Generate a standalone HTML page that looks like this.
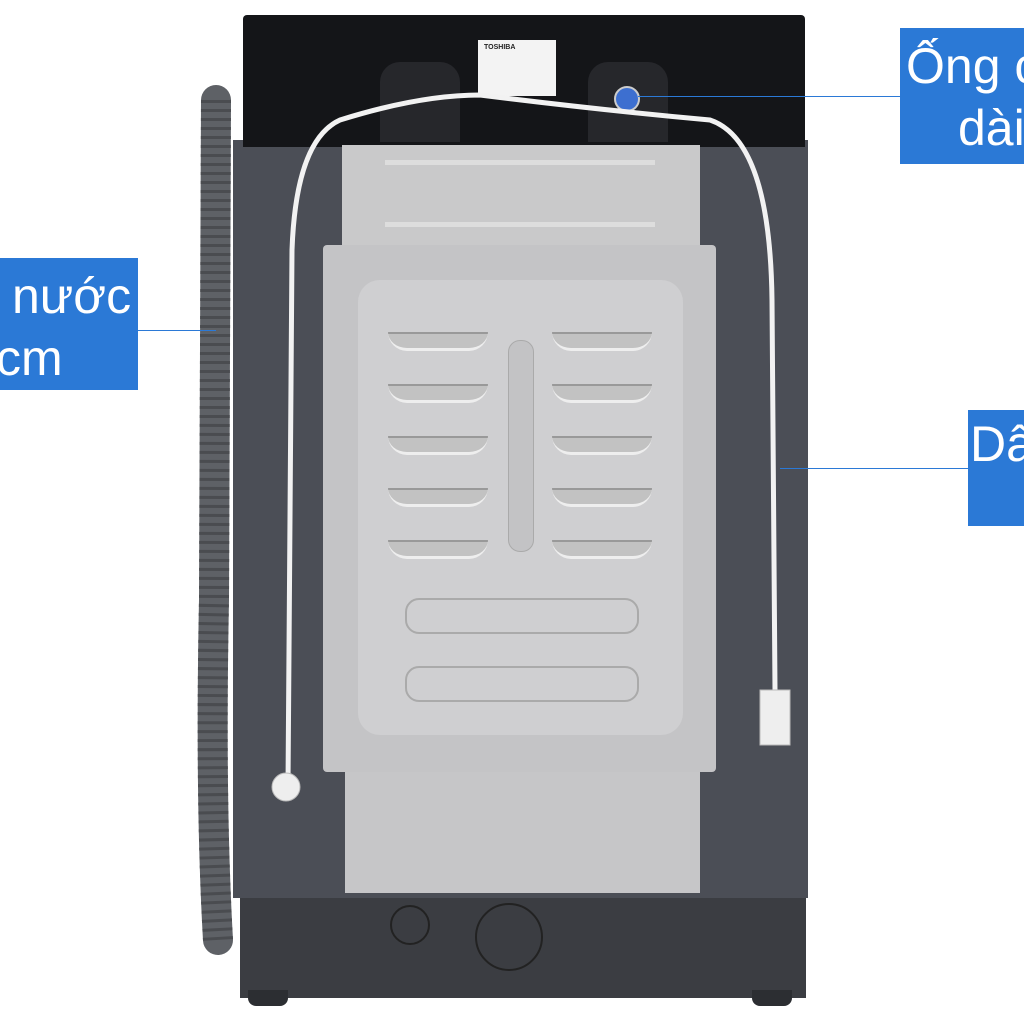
<!DOCTYPE html>
<html><head><meta charset="utf-8"><style>
html,body{margin:0;padding:0;background:#fff;}
#c{position:relative;width:1024px;height:1024px;overflow:hidden;background:#fff;font-family:"Liberation Sans",sans-serif;}
.a{position:absolute;}
.lbl{position:absolute;background:#2b79d6;color:#fff;font-size:50px;line-height:64px;white-space:nowrap;overflow:hidden;}
.ln{position:absolute;height:1px;background:#2b79d6;}
.vent{position:absolute;width:100px;height:14px;border-bottom:3px solid #eee;border-top:2px solid #999;border-radius:0 0 30px 30px;background:#c2c2c2;}
</style></head><body><div id="c">
<div class="a" style="left:240px;top:893px;width:566px;height:105px;background:#3b3d42;"></div>
<div class="a" style="left:248px;top:990px;width:40px;height:16px;background:#2c2e32;border-radius:0 0 8px 8px;"></div>
<div class="a" style="left:752px;top:990px;width:40px;height:16px;background:#2c2e32;border-radius:0 0 8px 8px;"></div>
<div class="a" style="left:390px;top:905px;width:36px;height:36px;border-radius:50%;border:2px solid #222;"></div>
<div class="a" style="left:475px;top:903px;width:64px;height:64px;border-radius:50%;border:2px solid #222;"></div>
<div class="a" style="left:233px;top:140px;width:575px;height:758px;background:#4b4e56;"></div>
<div class="a" style="left:243px;top:15px;width:562px;height:132px;background:#141518;border-radius:4px 4px 0 0;"></div>
<div class="a" style="left:478px;top:40px;width:78px;height:56px;background:#f3f3f3;"></div>
<div class="a" style="left:484px;top:44px;font-size:7px;font-weight:bold;color:#222;">TOSHIBA</div>
<div class="a" style="left:380px;top:62px;width:80px;height:80px;background:#26272b;border-radius:20px 20px 0 0;"></div>
<div class="a" style="left:588px;top:62px;width:80px;height:80px;background:#26272b;border-radius:20px 20px 0 0;"></div>
<div class="a" style="left:614px;top:86px;width:22px;height:22px;border-radius:50%;background:#3d6fd0;border:2px solid #ccc;"></div>
<div class="a" style="left:342px;top:145px;width:358px;height:100px;background:#c9c9ca;"></div>
<div class="a" style="left:385px;top:160px;width:270px;height:5px;background:#ddd;"></div>
<div class="a" style="left:385px;top:222px;width:270px;height:5px;background:#ddd;"></div>
<div class="a" style="left:323px;top:245px;width:393px;height:527px;background:#c4c4c6;border-radius:4px;"></div>
<div class="a" style="left:358px;top:280px;width:325px;height:455px;background:#cfcfd1;border-radius:22px;"></div>
<div class="a" style="left:508px;top:340px;width:24px;height:210px;background:#c3c3c5;border-radius:12px;border:1px solid #aaa;"></div>
<div class="vent" style="left:388px;top:332px;"></div><div class="vent" style="left:552px;top:332px;"></div>
<div class="vent" style="left:388px;top:384px;"></div><div class="vent" style="left:552px;top:384px;"></div>
<div class="vent" style="left:388px;top:436px;"></div><div class="vent" style="left:552px;top:436px;"></div>
<div class="vent" style="left:388px;top:488px;"></div><div class="vent" style="left:552px;top:488px;"></div>
<div class="vent" style="left:388px;top:540px;"></div><div class="vent" style="left:552px;top:540px;"></div>
<div class="a" style="left:405px;top:598px;width:230px;height:32px;border-radius:14px;border:2px solid #aaa;"></div>
<div class="a" style="left:405px;top:666px;width:230px;height:32px;border-radius:14px;border:2px solid #aaa;"></div>
<div class="a" style="left:345px;top:772px;width:355px;height:121px;background:#c6c6c8;"></div>
<svg class="a" style="left:0;top:0" width="1024" height="1024">
<path d="M216 100 L214 600 Q210 800 218 940" stroke="#5e6166" stroke-width="30" stroke-linecap="round" fill="none"/>
<path d="M216 100 L214 600 Q210 800 218 940" stroke="#4a4c50" stroke-width="30" stroke-dasharray="3 6" fill="none"/>
<path d="M288 785 L292 250 Q296 140 340 120 Q420 95 480 95 Q600 110 710 120 Q770 140 772 300 L775 690" stroke="#f2f2f2" stroke-width="5" fill="none"/>
<circle cx="286" cy="787" r="14" fill="#eee" stroke="#bbb"/>
<rect x="760" y="690" width="30" height="55" fill="#eee" stroke="#bbb"/>
</svg>
<div class="ln" style="left:638px;top:96px;width:262px;"></div>
<div class="lbl" style="left:900px;top:28px;width:124px;height:136px;"><div style="position:absolute;left:6px;top:6px;">Ống c</div><div style="position:absolute;left:58px;top:68px;">dài</div></div>
<div class="ln" style="left:138px;top:330px;width:78px;"></div>
<div class="lbl" style="left:0;top:258px;width:138px;height:132px;"><div style="position:absolute;left:12px;top:6px;">nước</div><div style="position:absolute;left:-4px;top:68px;">cm</div></div>
<div class="ln" style="left:780px;top:468px;width:188px;"></div>
<div class="lbl" style="left:968px;top:410px;width:56px;height:116px;"><div style="position:absolute;left:2px;top:2px;">Dâ</div></div>
</div></body></html>
